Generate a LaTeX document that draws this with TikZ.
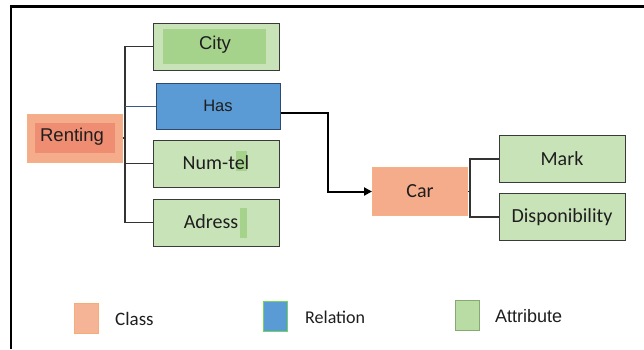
\documentclass[tikz,border=0pt]{standalone}
\usepackage{fontspec}
\setmainfont{Carlito}
\newfontfamily\arialf{Liberation Sans}
\usetikzlibrary{arrows.meta}
\definecolor{clsfill}{HTML}{F5AC8A}
\definecolor{clsdraw}{HTML}{F4B183}
\definecolor{clsin}{HTML}{EE8D72}
\definecolor{relfill}{HTML}{5B9BD5}
\definecolor{reldraw}{HTML}{2F4A6E}
\definecolor{attfill}{HTML}{C9E3B8}
\definecolor{attin}{HTML}{A6D38C}
\definecolor{attdraw}{HTML}{3A3A3A}
\definecolor{linec}{HTML}{333333}
\definecolor{txtc}{HTML}{1E1E1E}
\tikzset{
  cls/.style={draw=clsdraw, line width=1pt, fill=clsfill, minimum width=95pt, minimum height=48pt, inner sep=0pt, text=txtc, font=\fontsize{20}{23}\selectfont},
  rel/.style={draw=reldraw, line width=1pt, fill=relfill, minimum width=124pt, minimum height=46pt, inner sep=0pt, text=txtc, font=\arialf\fontsize{16.5}{19}\selectfont},
  att/.style={draw=attdraw, line width=1pt, fill=attfill, minimum width=126pt, minimum height=47pt, inner sep=0pt, text=txtc, font=\fontsize{20}{23}\selectfont},
  tree/.style={draw=linec, line width=1.2pt},
  legbox/.style={minimum width=24pt, minimum height=30pt, inner sep=0pt, line width=0.8pt},
  legtxt/.style={anchor=west, inner sep=0pt, text=txtc}
}
\begin{document}
\begin{tikzpicture}[x=1pt,y=-1pt]
\useasboundingbox (0,0) rectangle (644,349);
% frame
\draw[line width=2.2pt] (644,6.5) -- (11,6.5) -- (11,349);
% attribute boxes
\node[att] (city) at (216,46.5) {};
\fill[attin] (163,29) rectangle (266,64);
\node[text=txtc, font=\arialf\fontsize{18.5}{21}\selectfont] (citytxt) at (215,45) {City};
\node[rel] (has) at (218,106) {Has};
\node[att] (numtel) at (216,163.5) {};
\fill[attin] (236,151) rectangle (247,171);
\node[text=txtc, font=\fontsize{20}{23}\selectfont] (numteltxt) at (216,162.5) {Num-tel};
\node[att] (adress) at (216,222.5) {};
\fill[attin] (240,208) rectangle (247,238);
\node[text=txtc, font=\fontsize{20}{23}\selectfont] (adresstxt) at (211,221.5) {Adress};
% Renting
\node[cls] (renting) at (74.5,138) {};
\fill[clsin] (35,123) rectangle (115,153);
\node[text=txtc, font=\arialf\fontsize{18.5}{21}\selectfont] (rentingtxt) at (72,137) {Renting};
% Car and its attributes
\node[cls] (car) at (420,191.5) {Car};
\node[att] (mark) at (562,159) {Mark};
\node[att] (dispo) at (562,217) {Disponibility};
% tree from Renting
\coordinate (t0) at (125,138);
\draw[tree] (renting.east) -- (t0);
\draw[tree] (city.west) -- (125,46.5) -- (125,222.5) -- (adress.west);
\draw[tree] (numtel.west) -- (125,163.5);
\draw[draw=reldraw!80!relfill, line width=0.8pt] (has.west) -- (125,106);
% tree from Car
\draw[tree] (car.east) -- (470,191.5);
\draw[tree] (mark.west) -- (470,159) -- (470,217) -- (dispo.west);
% relation arrow
\draw[line width=2pt, -{Triangle[length=8pt,width=8pt]}] ([yshift=-7pt]has.east) -| (328,191.5) -- (car.west);
% legend
\node[legbox, draw=clsdraw!90!orange, fill=clsfill!90!white] (lc) at (86,318) {};
\node[legtxt, font=\fontsize{19}{22}\selectfont] (lct) at (115,319) {Class};
\node[legbox, draw=relfill!60!green!70!yellow, fill=relfill] (lr) at (275,316) {};
\node[legtxt, font=\fontsize{18}{21}\selectfont] (lrt) at (305,317) {Relation};
\node[legbox, draw=attin!80!black, fill=attin!80!white] (la) at (467.5,315) {};
\node[legtxt, font=\arialf\fontsize{18}{21}\selectfont] (lat) at (495,316) {Attribute};
\end{tikzpicture}
\end{document}
